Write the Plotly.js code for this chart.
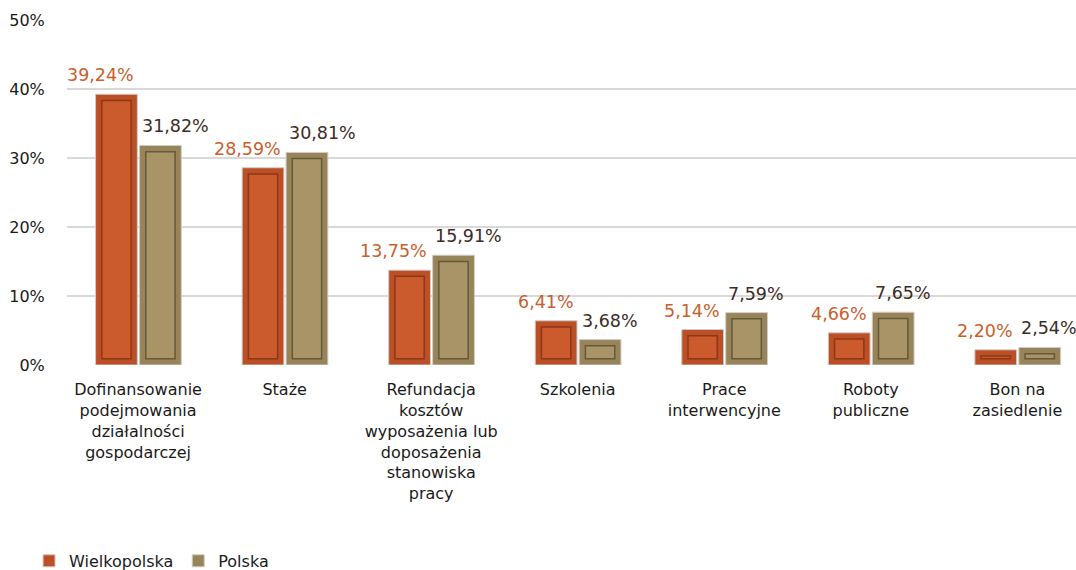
<!DOCTYPE html>
<html>
<head>
<meta charset="utf-8">
<script src="https://cdn.plot.ly/plotly-3.0.1.min.js"></script>
<style>html,body{margin:0;padding:0;background:#fff;}#chart{width:1076px;height:570px;}</style>
</head>
<body>
<div id="chart"></div>
<script>
const categories = [
  "Dofinansowanie<br>podejmowania<br>działalności<br>gospodarczej",
  "Staże",
  "Refundacja<br>kosztów<br>wyposażenia lub<br>doposażenia<br>stanowiska<br>pracy",
  "Szkolenia",
  "Prace<br>interwencyjne",
  "Roboty<br>publiczne",
  "Bon na<br>zasiedlenie"
];
const seriesNames = ["Wielkopolska", "Polska"];
const wielkopolska = [39.24, 28.59, 13.75, 6.41, 5.14, 4.66, 2.20];
const polska = [31.82, 30.81, 15.91, 3.68, 7.59, 7.65, 2.54];
const yTickVals = [0, 10, 20, 30, 40, 50];
const yTickText = ["0%", "10%", "20%", "30%", "40%", "50%"];

const fmt = v => v.toFixed(2).replace('.', ',') + '%';
const FONT = 'DejaVu Sans, sans-serif';

// bevel styling: outer rim bar + inset face bar
const INSET = 0.9;           // vertical inset of the face (axis units, style only)
const W_OUT = 0.285, W_IN = 0.2;
const OFF_W = -0.29, OFF_P = 0.01;

function series(name, vals, off, face, rim, groove, showleg) {
  return [
    {
      type: 'bar', name: name, x: categories, y: vals,
      width: W_OUT, offset: off,
      marker: {color: rim, line: {color: '#D0CCC8', width: 1}},
      hoverinfo: 'skip', showlegend: showleg, legendgroup: name
    },
    {
      type: 'bar', name: name, x: categories,
      y: vals.map(v => Math.max(v - 2 * INSET, 0.15)),
      base: vals.map(() => INSET),
      width: W_IN, offset: off + (W_OUT - W_IN) / 2,
      marker: {color: face, line: {color: groove, width: 1.5}},
      hoverinfo: 'skip', showlegend: false, legendgroup: name
    }
  ];
}

const traces = [
  ...series(seriesNames[0], wielkopolska, OFF_W, '#CB5A2C', '#BC4F25', '#8A3917', true),
  ...series(seriesNames[1], polska, OFF_P, '#A89467', '#978459', '#67583A', true)
];

const annotations = [];
categories.forEach((c, i) => {
  annotations.push({
    x: c, y: wielkopolska[i], xref: 'x', yref: 'y', text: fmt(wielkopolska[i]),
    showarrow: false, xanchor: 'right', xshift: -2, yshift: 19, yanchor: 'middle',
    font: {family: FONT, size: 17.5, color: '#C8602E'}
  });
  annotations.push({
    x: c, y: polska[i], xref: 'x', yref: 'y', text: fmt(polska[i]),
    showarrow: false, xanchor: 'left', xshift: 2, yshift: 19, yanchor: 'middle',
    font: {family: FONT, size: 17.5, color: '#3D2B24'}
  });
});

const layout = {
  width: 1076, height: 570,
  margin: {l: 67, r: 0, t: 20, b: 205},
  paper_bgcolor: '#fff', plot_bgcolor: '#fff',
  barmode: 'overlay',
  font: {family: FONT, size: 16, color: '#1a1a1a'},
  xaxis: {
    type: 'category', range: [-0.485, 6.40], automargin: false,
    showgrid: false, zeroline: false, showline: false,
    ticks: 'outside', ticklen: 10, tickcolor: 'rgba(0,0,0,0)',
    tickfont: {family: FONT, size: 16, color: '#1a1a1a'}, tickangle: 0
  },
  yaxis: {
    range: [0, 50], tickvals: yTickVals, ticktext: yTickText, automargin: false,
    showgrid: true, gridcolor: '#D9D9D9', gridwidth: 1.5,
    zeroline: false, showline: false,
    ticks: 'outside', ticklen: 18, tickcolor: 'rgba(0,0,0,0)',
    tickfont: {family: FONT, size: 16, color: '#1a1a1a'}
  },
  showlegend: true,
  legend: {
    orientation: 'h', xref: 'container', yref: 'container',
    x: 0.027, xanchor: 'left', y: 0.016, yanchor: 'middle',
    font: {family: FONT, size: 16, color: '#1a1a1a'},
    itemwidth: 30, traceorder: 'normal'
  },
  annotations: annotations
};

Plotly.newPlot('chart', traces, layout, {displayModeBar: false, staticPlot: true});
</script>
</body>
</html>
